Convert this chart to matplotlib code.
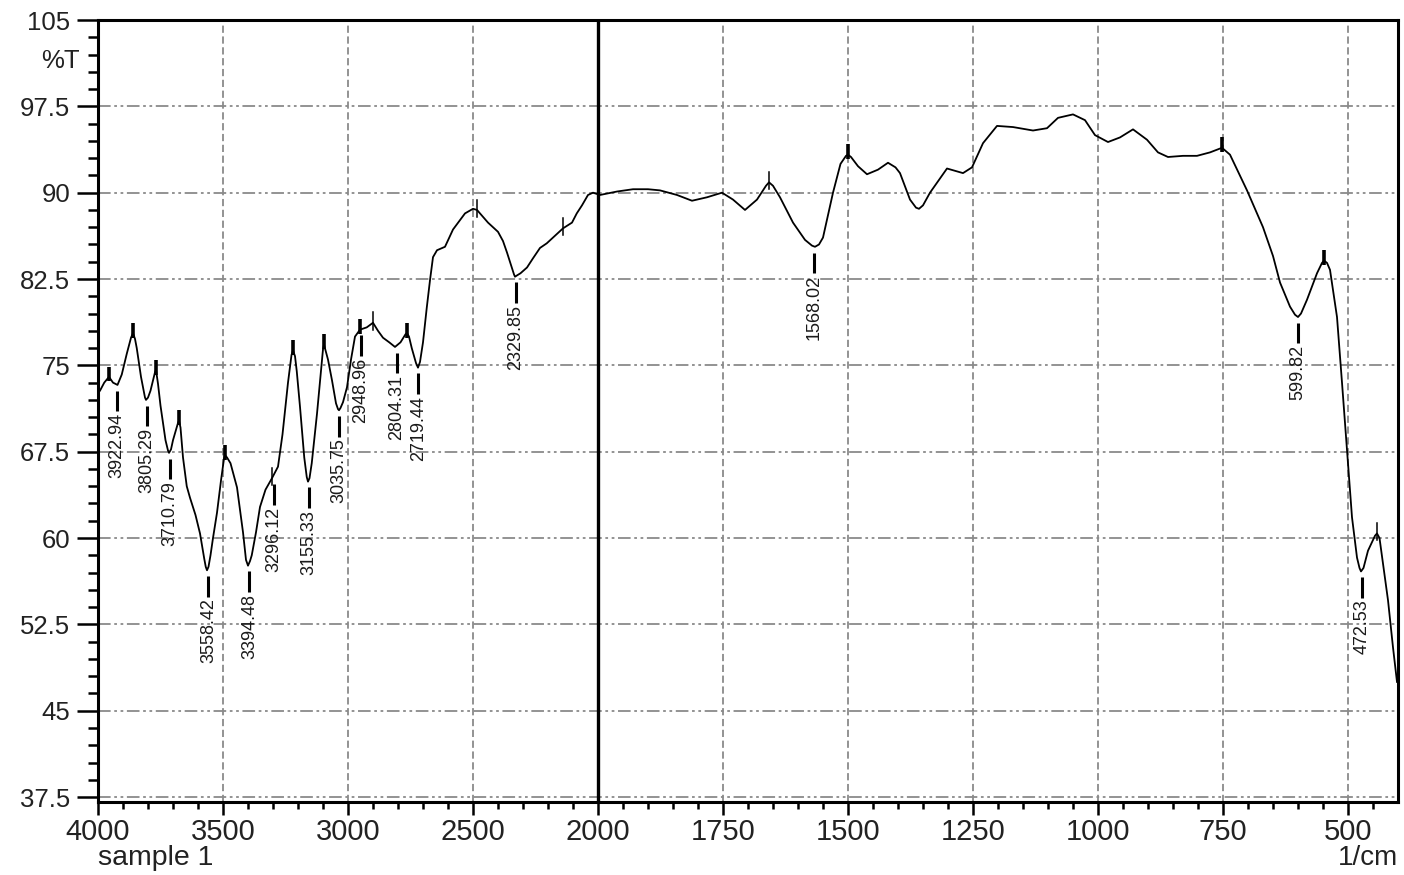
import numpy as np
import matplotlib
matplotlib.use("Agg")
import matplotlib.pyplot as plt
from matplotlib.ticker import FixedLocator, FixedFormatter
from matplotlib.transforms import blended_transform_factory

plt.rcParams['font.family'] = ['Liberation Sans', 'DejaVu Sans']

# spectrum (wavenumber 1/cm, %T)
wavenumber = [4000, 3992, 3975, 3956, 3940, 3922, 3905, 3885, 3868, 3860, 3852, 3845, 3828, 3812,
              3808, 3800, 3790, 3772, 3768, 3760, 3750, 3730, 3720, 3716, 3708, 3700, 3680, 3676,
              3670, 3660, 3645, 3632, 3610, 3592, 3575, 3569, 3564, 3558, 3550, 3540, 3524, 3508,
              3496, 3492, 3484, 3470, 3444, 3420, 3408, 3400, 3392, 3385, 3368, 3352, 3330, 3304,
              3280, 3262, 3240, 3226, 3220, 3212, 3205, 3192, 3175, 3165, 3160, 3154, 3145, 3124,
              3108, 3100, 3096, 3090, 3080, 3064, 3048, 3040, 3036, 3030, 3020, 3004, 2988, 2972,
              2952, 2925, 2900, 2880, 2860, 2835, 2812, 2790, 2770, 2764, 2756, 2745, 2728, 2720,
              2712, 2700, 2685, 2672, 2660, 2644, 2612, 2580, 2532, 2500, 2484, 2460, 2440, 2400,
              2380, 2364, 2345, 2336, 2332, 2325, 2310, 2284, 2260, 2232, 2205, 2180, 2140, 2104,
              2085, 2064, 2040, 2020, 1996, 1962, 1930, 1900, 1876, 1842, 1812, 1782, 1752, 1730,
              1706, 1682, 1664, 1658, 1650, 1636, 1610, 1586, 1572, 1566, 1558, 1550, 1530, 1515,
              1504, 1500, 1494, 1480, 1462, 1440, 1420, 1405, 1396, 1376, 1364, 1358, 1350, 1336,
              1302, 1270, 1252, 1230, 1202, 1170, 1130, 1102, 1080, 1050, 1026, 1006, 980, 956,
              930, 902, 880, 860, 830, 802, 776, 752, 736, 702, 670, 650, 636, 616, 606, 600, 594,
              582, 562, 552, 548, 542, 536, 522, 512, 502, 492, 482, 477, 474, 469, 460, 446, 442,
              437, 430, 420, 410, 402]
transmittance = [72.6, 72.8, 73.5, 74.0, 73.5, 73.3, 74.2, 76.0, 77.4, 77.8, 77.3, 76.5, 74.0, 72.2,
                 72.0, 72.2, 72.8, 74.4, 74.6, 73.4, 71.5, 68.5, 67.6, 67.4, 67.7, 68.5, 70.0, 70.2,
                 69.6, 67.0, 64.5, 63.5, 62.0, 60.4, 58.2, 57.5, 57.2, 57.5, 58.5, 60.0, 62.2, 65.0,
                 66.9, 67.2, 67.0, 66.5, 64.4, 60.5, 58.1, 57.6, 58.0, 58.5, 60.5, 62.7, 64.2, 65.2,
                 66.2, 69.0, 73.5, 75.9, 76.3, 75.8, 74.5, 71.4, 67.0, 65.3, 64.9, 65.2, 66.5, 70.8,
                 74.5, 76.4, 76.8, 76.3, 75.5, 73.7, 71.7, 71.2, 71.1, 71.3, 71.8, 73.1, 75.5, 77.5,
                 78.1, 78.3, 78.7, 78.0, 77.4, 77.0, 76.6, 77.0, 77.7, 77.8, 77.5, 76.5, 75.2, 74.8,
                 75.3, 77.0, 80.0, 82.4, 84.4, 85.0, 85.3, 86.8, 88.2, 88.6, 88.5, 87.9, 87.4, 86.6,
                 85.8, 84.8, 83.5, 82.9, 82.7, 82.8, 83.0, 83.5, 84.3, 85.2, 85.6, 86.1, 86.9, 87.4,
                 88.2, 88.9, 89.8, 90.0, 89.8, 90.1, 90.3, 90.3, 90.2, 89.8, 89.3, 89.6, 90.0, 89.4,
                 88.5, 89.4, 90.6, 90.9, 90.6, 89.6, 87.4, 85.9, 85.4, 85.3, 85.5, 86.1, 90.0, 92.5,
                 93.2, 93.3, 93.1, 92.3, 91.6, 92.0, 92.6, 92.2, 91.7, 89.4, 88.7, 88.6, 88.9, 90.0,
                 92.1, 91.7, 92.2, 94.3, 95.8, 95.7, 95.4, 95.6, 96.5, 96.8, 96.3, 95.0, 94.4, 94.8,
                 95.5, 94.6, 93.5, 93.1, 93.2, 93.2, 93.5, 93.9, 93.3, 90.2, 87.0, 84.5, 82.2, 80.1,
                 79.4, 79.2, 79.5, 80.7, 83.0, 83.9, 84.1, 83.9, 83.3, 79.2, 73.5, 67.6, 61.8, 58.3,
                 57.4, 57.1, 57.4, 58.9, 60.2, 60.4, 60.0, 57.8, 54.6, 50.5, 47.5]

# labelled bands
band_labels = ["3922.94", "3805.29", "3710.79", "3558.42", "3394.48", "3296.12", "3155.33",
               "3035.75", "2948.96", "2804.31", "2719.44", "2329.85", "1568.02", "599.82", "472.53"]
band_T = [73.3, 72.0, 67.4, 57.2, 57.6, 65.2, 64.9, 71.1, 78.1, 76.6, 74.8, 82.7, 85.3, 79.2, 57.1]

# small marks on the maxima (thick / thin)
mark_wn = [3956, 3860, 3768, 3676, 3492, 3220, 3096, 2952, 2764, 1500, 752, 548]
mark_T = [74.0, 77.8, 74.6, 70.2, 67.2, 76.3, 76.8, 78.1, 77.8, 93.3, 93.9, 84.1]
thin_wn = [3304, 2900, 2484, 2140, 1658, 442]
thin_T = [65.2, 78.7, 88.5, 86.9, 90.9, 60.4]

x_major = [4000, 3500, 3000, 2500, 2000, 1750, 1500, 1250, 1000, 750, 500]
y_major = [37.5, 45, 52.5, 60, 67.5, 75, 82.5, 90, 97.5, 105]


def fwd(x):
    x = np.asarray(x, dtype=float)
    return np.where(x > 2000, 2000 + (x - 2000) / 2.0, x)


def inv(y):
    y = np.asarray(y, dtype=float)
    return np.where(y > 2000, 2000 + (y - 2000) * 2.0, y)


fig = plt.figure(figsize=(14.04, 8.75), dpi=100)
ax = fig.add_axes([98 / 1404, 1 - 802 / 875, 1300 / 1404, 782 / 875])
ax.set_xscale('function', functions=(fwd, inv))
ax.set_xlim(4000, 400)
ax.set_ylim(37.07, 105)

# grid
for v in x_major[1:]:
    if v == 2000:
        ax.axvline(v, color='black', lw=2.4, zorder=2)
    else:
        ax.axvline(v, color='#8a8a8a', lw=1.3, ls=(0, (4, 2)), zorder=1)
for h in y_major[:-1]:
    ax.axhline(h, color='#8a8a8a', lw=1.3, ls=(0, (7, 2, 1.5, 2, 1.5, 2)), zorder=1)

ax.plot(wavenumber, transmittance, color='black', lw=1.3, zorder=3, solid_joinstyle='round')

# peak marks
for w, t in zip(mark_wn, mark_T):
    ax.plot([w, w], [t - 0.4, t + 0.9], color='black', lw=2.6, solid_capstyle='butt', zorder=4)
for w, t in zip(thin_wn, thin_T):
    ax.plot([w, w], [t - 0.6, t + 0.9], color='black', lw=1.1, zorder=4)

# band labels
for lab, t in zip(band_labels, band_T):
    w = float(lab)
    ax.plot([w, w], [t - 0.5, t - 2.3], color='black', lw=2.2, solid_capstyle='butt', zorder=4)
    ax.text(w, t - 2.45, lab, rotation=90, ha='center', va='top', fontsize=13,
            color='#1a1a1a', zorder=4)

# ticks
x_minor = [v for v in range(3900, 2000, -100) if v not in x_major] + \
          [v for v in range(1950, 400, -50) if v not in x_major]
ax.xaxis.set_major_locator(FixedLocator(x_major))
ax.xaxis.set_major_formatter(FixedFormatter([str(v) for v in x_major]))
ax.xaxis.set_minor_locator(FixedLocator(x_minor))
ax.yaxis.set_major_locator(FixedLocator(y_major))
ax.yaxis.set_major_formatter(FixedFormatter(['37.5', '45', '52.5', '60', '67.5', '75',
                                             '82.5', '90', '97.5', '105']))
ax.yaxis.set_minor_locator(FixedLocator(np.arange(37.5, 105.1, 1.5)))

ax.tick_params(axis='x', which='major', direction='out', length=9.5, width=1.8,
               labelsize=21, pad=2, colors='black', labelcolor='#222222')
ax.tick_params(axis='x', which='minor', direction='out', length=5, width=1.8)
ax.tick_params(axis='y', which='major', direction='out', length=15, width=1.8,
               labelsize=18.5, pad=5, colors='black', labelcolor='#222222')
ax.tick_params(axis='y', which='minor', direction='out', length=7, width=1.8)

for s in ax.spines.values():
    s.set_linewidth(2.2)
    s.set_color('black')

tr = blended_transform_factory(ax.transAxes, ax.transData)
ax.text(-0.014, 101.4, '%T', transform=tr, ha='right', va='center', fontsize=18.5, color='#222222')
ax.text(0.0, -0.055, 'sample 1', transform=ax.transAxes, ha='left', va='top', fontsize=20.5,
        color='#222222')
ax.text(1.0, -0.055, '1/cm', transform=ax.transAxes, ha='right', va='top', fontsize=20,
        color='#222222')

fig.savefig('out.png', dpi=100)
